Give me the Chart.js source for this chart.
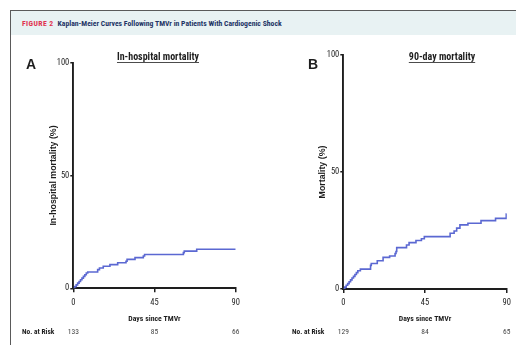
<!DOCTYPE html>
<html>
<head>
<meta charset="utf-8">
<script src="https://cdn.jsdelivr.net/npm/chart.js@4.4.1/dist/chart.umd.min.js"></script>
<style>
  html, body { margin: 0; padding: 0; background: #fff; }
  body { width: 516px; height: 345px; position: relative; overflow: hidden;
         font-family: "Roboto Condensed", "Liberation Sans", Arial, sans-serif; }
  #frame { position: absolute; left: 10px; top: 10px; width: 520px; height: 340px;
           border-left: 1.5px solid #5a5a5a; border-top: 1.5px solid #5a5a5a; }
  #head { position: absolute; left: 11px; top: 11px; width: 510px; height: 24px;
          background: #e8f2f3; }
  #headText { position: absolute; left: 22px; top: 19px; font-size: 7.7px; font-weight: bold;
              color: #1f3566; white-space: nowrap; }
  #headText span { color: #e0334f; letter-spacing: 0.4px; margin-right: 4px; }
  .wrap { position: absolute; top: 40px; height: 300px; }
  #wa { left: 12px; width: 250px; }
  #wb { left: 262px; width: 254px; }
</style>
</head>
<body>
<div id="frame"></div>
<div id="head"></div>
<div id="headText"><span>FIGURE 2</span>Kaplan-Meier Curves Following TMVr in Patients With Cardiogenic Shock</div>
<div class="wrap" id="wa"><canvas id="chartA"></canvas></div>
<div class="wrap" id="wb"><canvas id="chartB"></canvas></div>
<script>
// data
const xTicks = [0, 45, 90];
const yTicks = [0, 50, 100];

// A: in-hospital mortality
const daysA = [0, 0.8, 1.6, 2.4, 3.2, 4.0, 4.8, 5.6, 6.4, 7.2, 8.0, 13.5, 14.5, 16.6, 20.3, 24.6, 29.2, 29.8, 34.2, 38.8, 39.5, 61.0, 61.5, 68.4, 90];
const mortA = [0, 0.8, 1.5, 2.3, 3.0, 3.8, 4.5, 5.3, 6.0, 6.8, 7.2, 8.3, 9.0, 9.8, 10.5, 11.3, 12.0, 12.8, 13.6, 14.3, 15.0, 15.8, 16.5, 17.3, 17.3];
const riskA = [133, 85, 66];

// B: 90-day mortality
const daysB = [0, 0.8, 1.6, 2.4, 3.2, 4.0, 4.8, 5.6, 6.4, 7.2, 8.0, 9.4, 15.0, 15.4, 18.7, 21.9, 25.5, 28.5, 29.0, 29.4, 34.8, 36.2, 40.0, 43.0, 44.6, 58.8, 61.0, 62.4, 64.2, 68.6, 75.8, 83.8, 89.7, 90];
const mortB = [0, 0.8, 1.6, 2.3, 3.1, 3.9, 4.7, 5.4, 6.2, 7.0, 7.8, 8.5, 10.1, 10.9, 12.1, 13.5, 14.1, 15.2, 16.0, 17.7, 18.8, 19.8, 20.7, 21.5, 22.4, 23.8, 24.8, 26.0, 27.4, 28.1, 29.2, 30.2, 32.0, 32.0];
const riskB = [129, 84, 65];

const FONT = '"Roboto Condensed", "Liberation Sans", Arial, sans-serif';
const FONT_WIDE = '"Liberation Sans", Arial, sans-serif';
const INK = '#1e1e1e';

// huruf panel, judul bergaris bawah dan baris "No. at Risk"
const extras = {
  id: 'extras',
  afterDraw(chart, args, o) {
    const ctx = chart.ctx;
    const x = chart.scales.x;
    ctx.save();
    ctx.fillStyle = INK;
    ctx.textBaseline = 'middle';

    ctx.font = 'bold 14px ' + FONT_WIDE;
    ctx.textAlign = 'center';
    ctx.fillText(o.letter, o.letterX, 25);

    ctx.font = 'bold 10px ' + FONT;
    ctx.fillText(o.title, o.titleX, 17);
    const w = ctx.measureText(o.title).width;
    ctx.strokeStyle = INK;
    ctx.lineWidth = 0.8;
    ctx.beginPath();
    ctx.moveTo(o.titleX - w / 2, 22.5);
    ctx.lineTo(o.titleX + w / 2, 22.5);
    ctx.stroke();

    ctx.font = 'bold 7.4px ' + FONT;
    ctx.textAlign = 'left';
    ctx.fillText('No. at Risk', o.riskLabelX, 292);
    ctx.font = '7.5px ' + FONT;
    ctx.fillStyle = '#444';
    ctx.textAlign = 'center';
    o.risk.forEach((n, i) => ctx.fillText(String(n), x.getPixelForValue(xTicks[i]), 292));
    ctx.restore();
  }
};

function buatKurva(id, days, mort, cfg) {
  const ctx = document.getElementById(id);
  return new Chart(ctx.getContext('2d'), {
    type: 'line',
    data: {
      datasets: [{
        data: days.map((d, i) => ({ x: d, y: mort[i] })),
        borderColor: '#5b68d2',
        borderWidth: 1.6,
        pointRadius: 0,
        stepped: 'before',
        fill: false
      }]
    },
    plugins: [extras],
    options: {
      responsive: true,
      maintainAspectRatio: false,
      animation: false,
      layout: { padding: cfg.padding },
      plugins: {
        legend: { display: false },
        tooltip: { enabled: false },
        extras: cfg.extras
      },
      scales: {
        x: {
          type: 'linear',
          min: 0, max: 90,
          afterFit: s => { s.height = 35; },
          afterBuildTicks: s => { s.ticks = xTicks.map(v => ({ value: v })); },
          grid: { drawOnChartArea: false, drawTicks: true, tickLength: 4, color: INK, lineWidth: 1.5 },
          border: { color: INK, width: 1.9 },
          ticks: { color: INK, padding: 5, font: { family: FONT, size: 8.5 } },
          title: { display: true, text: 'Days since TMVr', color: INK, padding: { top: 2, bottom: 0 },
                   font: { family: FONT, size: 7.8, weight: 'bold' } }
        },
        y: {
          min: 0, max: 100,
          afterFit: s => { s.width = cfg.yWidth; },
          afterBuildTicks: s => { s.ticks = yTicks.map(v => ({ value: v })); },
          grid: { drawOnChartArea: false, drawTicks: true, tickLength: 3, color: INK, lineWidth: 1.5 },
          border: { color: INK, width: 1.9 },
          ticks: { color: INK, padding: 1, font: { family: FONT, size: 8.5 } },
          title: { display: true, text: cfg.yTitle, color: INK, padding: { top: cfg.yTitlePad, bottom: 0 },
                   font: { family: FONT_WIDE, size: 8.8, weight: 'bold' } }
        }
      }
    }
  });
}

buatKurva('chartA', daysA, mortA, {
  padding: { left: 0, top: 22.7, right: 26.3, bottom: 16.7 },
  yWidth: 61.3,
  yTitle: 'In-hospital mortality (%)',
  yTitlePad: 36.7,
  extras: { letter: 'A', letterX: 19, title: 'In-hospital mortality', titleX: 146, risk: riskA, riskLabelX: 10 }
});

buatKurva('chartB', daysB, mortB, {
  padding: { left: 0, top: 15, right: 4.3, bottom: 16 },
  yWidth: 81.3,
  yTitle: 'Mortality (%)',
  yTitlePad: 55.7,
  extras: { letter: 'B', letterX: 51, title: '90-day mortality', titleX: 180, risk: riskB, riskLabelX: 30 }
});
</script>
</body>
</html>
